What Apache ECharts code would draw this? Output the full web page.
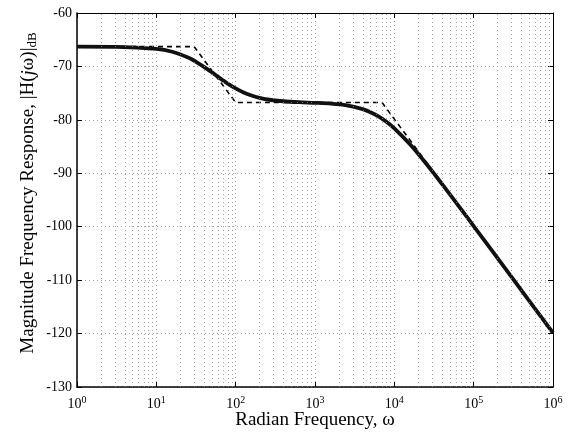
<!DOCTYPE html>
<html><head><meta charset="utf-8">
<script src="https://cdn.jsdelivr.net/npm/echarts@6/dist/echarts.min.js"></script>
<style>html,body{margin:0;padding:0;background:#fff}#c{width:569px;height:432px}</style>
</head><body><div id="c"></div>
<script>
// Frequency (rad/s) and magnitude (dB)
const freqSolid = [1, 3.162, 10, 15.85, 25.12, 31.62, 39.81, 50.12, 63.1, 79.43, 100, 125.9, 158.5, 199.5, 251.2, 398.1, 631, 1000, 1585, 2512, 3981, 5012, 6310, 7943, 10000, 15850, 25120, 39810, 63100, 100000, 316200, 1000000];
const magSolid = [-66.30, -66.34, -66.72, -67.26, -68.34, -69.13, -70.07, -71.11, -72.19, -73.21, -74.12, -74.88, -75.45, -75.88, -76.19, -76.52, -76.70, -76.81, -76.96, -77.28, -77.98, -78.56, -79.34, -80.35, -81.59, -84.63, -88.18, -91.99, -95.91, -99.88, -109.86, -119.86];
const freqAsym = [1, 30, 100, 7000, 1000000];
const magAsym = [-66.30, -66.30, -76.76, -76.76, -119.86];
const xTicks = [1, 10, 100, 1000, 10000, 100000, 1000000];
const yTicks = [-130, -120, -110, -100, -90, -80, -70, -60];
const minorFreqs = [];
[1, 10, 100, 1000, 10000, 100000].forEach(d => { for (let m = 2; m <= 9; m++) minorFreqs.push(m * d); });

const font = 'Liberation Serif, Times New Roman, serif';
const chart = echarts.init(document.getElementById('c'));
const dotted = { color: '#8a8a8a', width: 0.8, type: [1, 3] };
const xLabel = {
  fontFamily: font, color: '#000', margin: 8,
  formatter: v => '{b|10}{s|' + Math.round(Math.log10(v)) + '}',
  rich: { b: { fontFamily: font, fontSize: 14, color: '#000' },
          s: { fontFamily: font, fontSize: 10, color: '#000', verticalAlign: 'top', padding: [0, 0, 9, 0] } }
};
chart.setOption({
  animation: false,
  backgroundColor: '#fff',
  grid: { left: 77, right: 16, top: 13, bottom: 45, containLabel: false, outerBoundsMode: 'none' },
  xAxis: [{
    type: 'log', logBase: 10, min: xTicks[0], max: xTicks[xTicks.length - 1], position: 'bottom',
    axisLine: { show: true, lineStyle: { color: '#000', width: 1.5 } },
    axisTick: { show: true, inside: true, length: 5, lineStyle: { color: '#000' } },
    axisLabel: xLabel,
    splitLine: { show: true, lineStyle: dotted },
    name: 'Radian Frequency, ω', nameLocation: 'middle', nameGap: 24, nameMoveOverlap: false,
    nameTextStyle: { fontFamily: font, fontSize: 19, color: '#000' }
  }, {
    type: 'log', logBase: 10, min: xTicks[0], max: xTicks[xTicks.length - 1], position: 'top',
    axisLine: { show: true, lineStyle: { color: '#000', width: 1 } },
    axisTick: { show: true, inside: true, length: 5, lineStyle: { color: '#000' } },
    axisLabel: { show: false }, splitLine: { show: false }
  }],
  yAxis: [{
    type: 'value', min: yTicks[0], max: yTicks[yTicks.length - 1], interval: 10,
    axisLine: { show: true, lineStyle: { color: '#000', width: 1.5 } },
    axisTick: { show: true, inside: true, length: 5, lineStyle: { color: '#000' } },
    axisLabel: { fontFamily: font, fontSize: 14, color: '#000', margin: 5 },
    splitLine: { show: true, lineStyle: dotted },
    name: '{n|Magnitude Frequency Response, |H(}{i|j}{n|ω)|}{d|dB}', nameLocation: 'middle', nameGap: 38, nameMoveOverlap: false,
    nameTextStyle: { fontFamily: font, fontSize: 19, color: '#000', padding: [0, 0, 0, 14],
      rich: { n: { fontFamily: font, fontSize: 19, color: '#000' },
              i: { fontFamily: font, fontSize: 19, fontStyle: 'italic', color: '#000' },
              d: { fontFamily: font, fontSize: 13, color: '#000', verticalAlign: 'bottom', padding: [8, 0, 0, 0] } } }
  }, {
    type: 'value', min: yTicks[0], max: yTicks[yTicks.length - 1], interval: 10, position: 'right',
    axisLine: { show: true, lineStyle: { color: '#000', width: 1 } },
    axisTick: { show: true, inside: true, length: 5, lineStyle: { color: '#000' } },
    axisLabel: { show: false }, splitLine: { show: false }
  }],
  series: [{
    type: 'line', xAxisIndex: 0, yAxisIndex: 0, silent: true,
    data: [], symbol: 'none',
    markLine: { silent: true, symbol: 'none', label: { show: false },
      lineStyle: { color: '#8a8a8a', width: 0.8, type: [1, 3] },
      data: minorFreqs.map(f => ({ xAxis: f })) }
  }, {
    name: 'asymptote', type: 'line', xAxisIndex: 0, yAxisIndex: 0, symbol: 'none',
    data: freqAsym.map((f, i) => [f, magAsym[i]]),
    lineStyle: { color: '#000', width: 1.6, type: [5, 4] }, z: 3
  }, {
    name: 'response', type: 'line', xAxisIndex: 0, yAxisIndex: 0, symbol: 'none', smooth: 0.3,
    data: freqSolid.map((f, i) => [f, magSolid[i]]),
    lineStyle: { color: '#111', width: 3.8 }, z: 4
  }]
});
</script></body></html>
